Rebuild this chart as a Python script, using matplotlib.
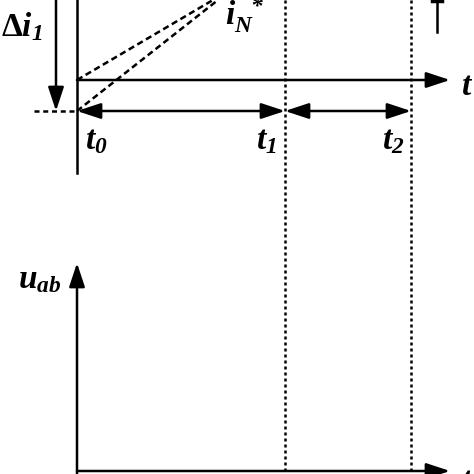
import matplotlib
matplotlib.use('Agg')
import matplotlib.pyplot as plt

plt.rcParams['mathtext.fontset'] = 'custom'
plt.rcParams['mathtext.rm'] = 'Liberation Serif:bold:italic'
plt.rcParams['mathtext.it'] = 'Liberation Serif:bold:italic'
plt.rcParams['mathtext.bf'] = 'Liberation Serif:bold'

# time instants on the horizontal axis (pixel scale of the sketch)
t_marks = [77, 285, 411]
t_labels = [r'$t_{0}$', r'$t_{1}$', r'$t_{2}$']
# current levels: axis level and the lower (i - delta i1) level
i_axis = 80
i_low = 111
# ramp end points of the two dashed reference lines
ramp_end_x = [213, 218]
# lower plot
u_axis_y = 471
u_axis_top = 263
t_end = 450

fig = plt.figure(figsize=(4.74, 4.74), dpi=100)
ax = fig.add_axes([0, 0, 1, 1])
ax.set_xlim(0, 474)
ax.set_ylim(474, 0)
ax.axis('off')

lw = 1.8
head = '-|>,head_length=1.0,head_width=0.33'
solid = dict(arrowstyle=head, color='black', lw=lw, shrinkA=0, shrinkB=0, mutation_scale=14.5)


def arrow(x0, y0, x1, y1, style=head):
    props = dict(solid)
    props['arrowstyle'] = style
    ax.annotate('', xy=(x1, y1), xytext=(x0, y0), arrowprops=props,
                annotation_clip=False)


# upper plot: current axis and time axis
ax.plot([t_marks[0], t_marks[0]], [0, 173], color='black', lw=lw)
arrow(t_marks[0], i_axis, t_end, i_axis)

# delta i1 arrow
arrow(56, 0, 56, i_low)
ax.plot([34, t_marks[0]], [i_low, i_low], color='black', lw=lw, ls=(0, (2, 1.5)))

# time interval double arrows
dbl = '<|-|>,head_length=1.0,head_width=0.33'
arrow(t_marks[0], i_low, t_marks[1], i_low, dbl)
arrow(t_marks[1], i_low, t_marks[2], i_low, dbl)

# dashed ramps
ax.plot([t_marks[0], ramp_end_x[0]], [i_axis, 0], color='black', lw=lw, ls=(0, (2.5, 1.5)))
ax.plot([t_marks[0], ramp_end_x[1]], [i_low, 0], color='black', lw=lw, ls=(0, (2.5, 1.5)))

# dotted instants across both plots
for x in t_marks[1:]:
    ax.plot([x, x], [0, 474], color='black', lw=lw, ls=(0, (1.2, 1.2)))

# small arrow top right, head cut off by the frame edge
ax.plot([437, 437], [0, 32], color='black', lw=lw)
ax.plot([432, 442], [1, 1], color='black', lw=2.5)

# lower plot axes
arrow(t_marks[0], 474, t_marks[0], u_axis_top)
arrow(t_marks[0], u_axis_y, t_end, u_axis_y)

# labels
fs = 24
ax.text(1, 36, r'$\mathbf{\Delta}i_{1}$', fontsize=fs, ha='left', va='baseline')
ax.text(225, 25, r'$i_{N}^{\;\;*}$', fontsize=fs, ha='left', va='baseline')
ax.text(461, 95, r'$t$', fontsize=fs, ha='left', va='baseline')
for x, lab in zip([85, 256, 382], t_labels):
    ax.text(x, 149, lab, fontsize=fs, ha='left', va='baseline')
ax.text(18, 288, r'$u_{ab}$', fontsize=fs, ha='left', va='baseline')
ax.text(461, 490, r'$t$', fontsize=fs, ha='left', va='baseline')

fig.savefig('out.png', dpi=100)
